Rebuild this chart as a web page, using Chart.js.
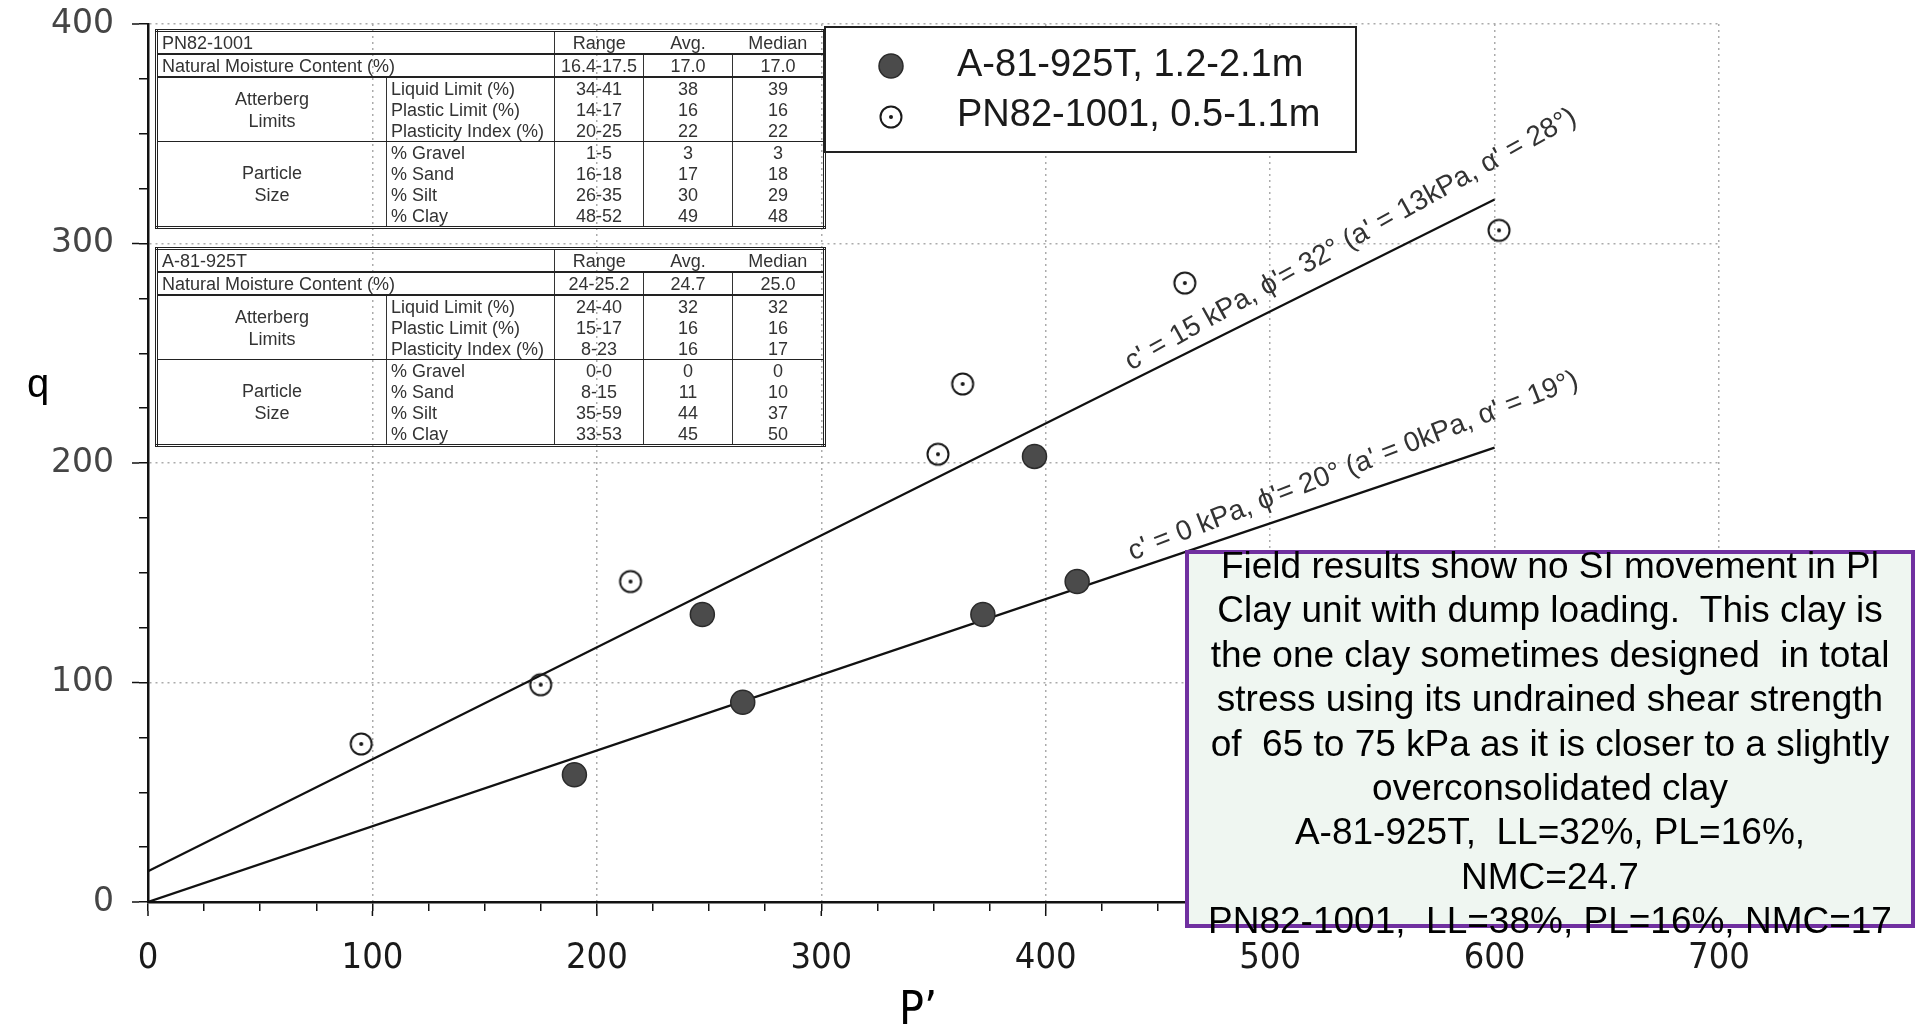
<!DOCTYPE html>
<html>
<head>
<meta charset="UTF-8">
<title>q - P' effective stress path plot</title>
<script src="https://cdn.jsdelivr.net/npm/chart.js@4.4.1/dist/chart.umd.min.js"></script>
<style>
  html, body { margin: 0; padding: 0; background: #fff; overflow: hidden; }
  #wrap { position: relative; width: 1919px; height: 1028px; }
  #chart { position: absolute; left: 0; top: 0; }
  table.props {
    position: absolute; left: 155px; width: 668px;
    border-collapse: collapse; table-layout: fixed;
    font-family: 'Liberation Sans', Arial, sans-serif; font-size: 18px; color: #333;
    border: 3px double #222;
  }
  table.props td { padding: 0 4px; height: 21px; line-height: 20px; white-space: nowrap; overflow: hidden; }
  table.props td.c { text-align: center; }
  table.props td.g { text-align: center; border-right: 1px solid #333; vertical-align: middle; line-height: 22px; }
  table.props td.vb { border-left: 1px solid #333; }
  table.props tr.head td { border-bottom: 2px solid #222; }
  table.props tr.nmc td { border-bottom: 2px solid #222; }
  table.props tr.grp td, table.props td.gl { border-bottom: 1.5px solid #222; }
  #note {
    position: absolute; left: 1185px; top: 550px; width: 730px; height: 378px;
    box-sizing: border-box; border: 4px solid #7030A0; background: #EFF6F1;
  }
  #noteText {
    position: absolute; left: 1185px; top: 544px; width: 730px;
    font-family: 'Liberation Sans', Arial, sans-serif; font-size: 37px; line-height: 44.4px;
    color: #000; text-align: center; white-space: pre;
  }
</style>
</head>
<body>
<div id="wrap">
  <canvas id="chart" width="1919" height="1028"></canvas>
  <div id="note"></div>
  <div id="noteText"></div>
</div>
<script>
// ---- data ----
const seriesNames = ["A-81-925T, 1.2-2.1m", "PN82-1001, 0.5-1.1m"];
const pA  = [190, 247, 265, 372, 395, 414];
const qA  = [58, 131, 91, 131, 203, 146];
const pPN = [95, 175, 215, 352, 363, 462, 602];
const qPN = [72, 99, 146, 204, 236, 282, 306];

// strength envelopes (end points)
const envP      = [0, 600];
const envUpperQ = [14, 320];
const envLowerQ = [0, 207];
const envLabels = [
  "c' = 15 kPa, \u03d5'= 32\u00b0 (a' = 13kPa, \u03b1' = 28\u00b0)",
  "c' = 0 kPa, \u03d5'= 20\u00b0 (a' = 0kPa, \u03b1' = 19\u00b0)"
];

const xTicks = [0, 100, 200, 300, 400, 500, 600, 700];
const yTicks = [0, 100, 200, 300, 400];

// property tables
const tableHeads = ["Range", "Avg.", "Median"];
const nmcLabel = "Natural Moisture Content (%)";
const rowLabels = ["Liquid Limit (%)", "Plastic Limit (%)", "Plasticity Index (%)",
                   "% Gravel", "% Sand", "% Silt", "% Clay"];
const pnRange  = ["16.4-17.5", "34-41", "14-17", "20-25", "1-5", "16-18", "26-35", "48-52"];
const pnAvg    = ["17.0", "38", "16", "22", "3", "17", "30", "49"];
const pnMedian = ["17.0", "39", "16", "22", "3", "18", "29", "48"];
const aRange   = ["24-25.2", "24-40", "15-17", "8-23", "0-0", "8-15", "35-59", "33-53"];
const aAvg     = ["24.7", "32", "16", "16", "0", "11", "44", "45"];
const aMedian  = ["25.0", "32", "16", "17", "0", "10", "37", "50"];

const noteLines = [
  "Field results show no SI movement in Pl",
  "Clay unit with dump loading.  This clay is",
  "the one clay sometimes designed  in total",
  "stress using its undrained shear strength",
  "of  65 to 75 kPa as it is closer to a slightly",
  "overconsolidated clay",
  "A-81-925T,  LL=32%, PL=16%,",
  "NMC=24.7",
  "PN82-1001,  LL=38%, PL=16%, NMC=17"
];

const SANS = "'Liberation Sans', Arial, sans-serif";
const NARROW = "'Liberation Sans Narrow', 'Arial Narrow', 'DejaVu Sans Condensed', 'Liberation Sans', sans-serif";

function buildTable(title, range, avg, median, top) {
  var t = document.createElement('table');
  t.className = 'props';
  t.style.top = top + 'px';
  var h = '<colgroup><col style="width:230px"><col style="width:168px"><col style="width:89px">' +
          '<col style="width:89px"><col style="width:92px"></colgroup>';
  h += '<tr class="head"><td>' + title + '</td><td></td><td class="c vb">' + tableHeads[0] +
       '</td><td class="c">' + tableHeads[1] + '</td><td class="c">' + tableHeads[2] + '</td></tr>';
  h += '<tr class="nmc"><td colspan="2">' + nmcLabel + '</td><td class="c vb">' + range[0] +
       '</td><td class="c vb">' + avg[0] + '</td><td class="c vb">' + median[0] + '</td></tr>';
  for (var i = 0; i < rowLabels.length; i++) {
    h += '<tr' + (i == 2 ? ' class="grp"' : '') + '>';
    if (i == 0) h += '<td rowspan="3" class="g gl">Atterberg<br>Limits</td>';
    if (i == 3) h += '<td rowspan="4" class="g">Particle<br>Size</td>';
    h += '<td>' + rowLabels[i] + '</td><td class="c vb">' + range[i + 1] + '</td><td class="c vb">' +
         avg[i + 1] + '</td><td class="c vb">' + median[i + 1] + '</td></tr>';
  }
  t.innerHTML = h;
  document.getElementById('wrap').appendChild(t);
}
buildTable("PN82-1001", pnRange, pnAvg, pnMedian, 29);
buildTable("A-81-925T", aRange, aAvg, aMedian, 247);
document.getElementById('noteText').textContent = noteLines.join("\n");

// open circle with centre dot
const openDot = (function () {
  var c = document.createElement('canvas');
  c.width = 28; c.height = 28;
  var g = c.getContext('2d');
  g.strokeStyle = '#1a1a1a'; g.lineWidth = 2;
  g.beginPath(); g.arc(14, 14, 10.5, 0, Math.PI * 2); g.stroke();
  g.fillStyle = '#1a1a1a';
  g.beginPath(); g.arc(14, 14, 2, 0, Math.PI * 2); g.fill();
  return c;
})();

function pts(xs, ys) { return xs.map(function (x, i) { return { x: x, y: ys[i] }; }); }

// extras drawn on the canvas: longer major ticks, envelope labels, legend, axis titles
const overlay = {
  id: 'overlay',
  afterDraw: function (chart) {
    var ctx = chart.ctx, xs = chart.scales.x, ys = chart.scales.y, a = chart.chartArea;
    ctx.save();
    ctx.strokeStyle = '#111'; ctx.lineWidth = 1.5;
    xTicks.forEach(function (v) {
      var px = xs.getPixelForValue(v);
      ctx.beginPath(); ctx.moveTo(px, a.bottom + 9); ctx.lineTo(px, a.bottom + 14); ctx.stroke();
    });
    yTicks.forEach(function (v) {
      var py = ys.getPixelForValue(v);
      ctx.beginPath(); ctx.moveTo(a.left - 9, py); ctx.lineTo(a.left - 16, py); ctx.stroke();
    });

    // envelope labels, rotated along each line (a touch steeper, as in the figure)
    [envUpperQ, envLowerQ].forEach(function (q, i) {
      var x0 = xs.getPixelForValue(envP[0]), y0 = ys.getPixelForValue(q[0]);
      var x1 = xs.getPixelForValue(envP[1]), y1 = ys.getPixelForValue(q[1]);
      var ang = Math.atan2(y1 - y0, x1 - x0) - 0.045;
      var start = 440;
      var qs = q[0] + (q[1] - q[0]) * (start - envP[0]) / (envP[1] - envP[0]);
      ctx.save();
      ctx.translate(xs.getPixelForValue(start), ys.getPixelForValue(qs));
      ctx.rotate(ang);
      ctx.font = '28px ' + SANS;
      ctx.fillStyle = '#333';
      ctx.textAlign = 'left'; ctx.textBaseline = 'alphabetic';
      ctx.fillText(envLabels[i], 0, -9);
      ctx.restore();
    });

    // legend box
    ctx.fillStyle = '#fff';
    ctx.fillRect(825, 27, 531, 125);
    ctx.strokeStyle = '#222'; ctx.lineWidth = 2;
    ctx.strokeRect(825, 27, 531, 125);
    var ds0 = chart.data.datasets[0];
    ctx.beginPath(); ctx.arc(891, 66, 12, 0, Math.PI * 2);
    ctx.fillStyle = ds0.pointBackgroundColor; ctx.fill();
    ctx.lineWidth = 1.5; ctx.strokeStyle = ds0.pointBorderColor; ctx.stroke();
    ctx.drawImage(openDot, 891 - 14, 117 - 14);
    ctx.font = '38px ' + SANS;
    ctx.fillStyle = '#1a1a1a';
    ctx.textAlign = 'left'; ctx.textBaseline = 'middle';
    ctx.fillText(chart.data.datasets[0].label, 957, 66);
    ctx.fillText(chart.data.datasets[1].label, 957, 116);

    // axis titles
    ctx.fillStyle = '#000';
    ctx.textAlign = 'center'; ctx.textBaseline = 'middle';
    ctx.font = '40px ' + SANS;
    ctx.fillText('q', 38, 386);
    ctx.font = '46px ' + NARROW;
    ctx.fillText('P\u2019', 918, 1012);
    ctx.restore();
  }
};

function gridColor(c) {
  return (c.tick && c.tick.value % 100 === 0 && c.tick.value > 0) ? '#ababab' : 'rgba(0,0,0,0)';
}

new Chart(document.getElementById('chart'), {
  type: 'scatter',
  data: {
    datasets: [
      { label: seriesNames[0], data: pts(pA, qA), pointRadius: 12, pointHoverRadius: 12,
        pointBackgroundColor: '#4b4b4b', pointBorderColor: '#2b2b2b', pointBorderWidth: 1.5 },
      { label: seriesNames[1], data: pts(pPN, qPN), pointStyle: openDot, pointRadius: 11 },
      { label: 'upper', data: pts(envP, envUpperQ), showLine: true, borderColor: '#111',
        borderWidth: 2.2, pointRadius: 0 },
      { label: 'lower', data: pts(envP, envLowerQ), showLine: true, borderColor: '#111',
        borderWidth: 2.2, pointRadius: 0 }
    ]
  },
  options: {
    responsive: false,
    animation: false,
    devicePixelRatio: 1,
    layout: { padding: { top: 24, right: 200, left: 0, bottom: 0 } },
    plugins: { legend: { display: false }, tooltip: { enabled: false } },
    scales: {
      x: {
        type: 'linear', min: 0, max: 700,
        afterFit: function (s) { s.height = 126; s.paddingLeft = 0; s.paddingRight = 0; },
        ticks: {
          stepSize: 25, autoSkip: false, maxRotation: 0, padding: 26,
          color: '#1a1a1a', font: { family: NARROW, size: 36 },
          callback: function (v) { return v % 100 === 0 ? String(v) : ''; }
        },
        grid: { color: gridColor, lineWidth: 1.5, tickColor: '#111', tickWidth: 1.5, tickLength: 9 },
        border: { display: true, color: '#111', width: 2.5, dash: [2, 4] }
      },
      y: {
        type: 'linear', min: 0, max: 400,
        afterFit: function (s) { s.width = 148; s.paddingTop = 0; s.paddingBottom = 0; },
        ticks: {
          stepSize: 25, autoSkip: false, padding: 25,
          color: '#454545', font: { family: "'DejaVu Sans', sans-serif", size: 33 },
          callback: function (v) { return v % 100 === 0 ? String(v) : ''; }
        },
        grid: { color: gridColor, lineWidth: 1.5, tickColor: '#111', tickWidth: 1.5, tickLength: 9 },
        border: { display: true, color: '#111', width: 2.5, dash: [2, 4] }
      }
    }
  },
  plugins: [overlay]
});
</script>
</body>
</html>
